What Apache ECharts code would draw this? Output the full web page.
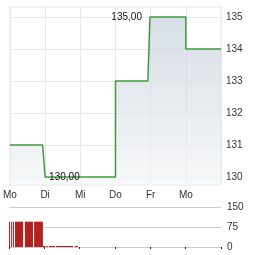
<!DOCTYPE html>
<html><head><meta charset="utf-8">
<script src="https://cdn.jsdelivr.net/npm/echarts@6/dist/echarts.min.js"></script>
<style>html,body{margin:0;padding:0;background:#fff}#c{width:264px;height:255px}</style>
</head><body><div id="c"></div>
<script>
// Price (step line), x in days since Monday
const dayLabels = ['Mo','Di','Mi','Do','Fr','Mo'];
const priceTimes = [0, 0.93, 1.0, 3.0, 3.0, 3.92, 3.98, 5.0, 5.0, 6.0];
const priceValues = [131, 131, 130, 130, 133, 133, 135, 135, 134, 134];
const priceTicks = [130, 131, 132, 133, 134, 135];
// Volume intervals
const volStart = [0.0, 0.06, 0.11, 0.17, 0.45, 0.71, 0.96, 1.04, 1.07, 1.13, 1.33, 1.86];
const volEnd   = [0.03, 0.085, 0.14, 0.40, 0.68, 0.96, 1.02, 1.06, 1.10, 1.30, 1.81, 1.95];
const volValues = [95, 95, 95, 95, 95, 95, 4, 4, 4, 4, 4, 4];
const volTicks = [0, 75, 150];

const FONT = 'Liberation Sans, Arial, sans-serif';
const priceData = priceTimes.map((t, i) => [t, priceValues[i]]);
const volData = volStart.map((s, i) => [s, volEnd[i], volValues[i]]);
const maxI = priceValues.indexOf(Math.max(...priceValues));
const minI = priceValues.indexOf(Math.min(...priceValues));
const fmt = v => v.toFixed(2).replace('.', ',');
const GRID = '#e8e8e8';

const chart = echarts.init(document.getElementById('c'), null, {renderer: 'canvas'});
chart.setOption({
  animation: false,
  grid: [
    {left: 9, right: 43, top: 7, height: 178, show: true, borderColor: GRID, borderWidth: 1, backgroundColor: 'transparent'},
    {left: 9, right: 43, top: 207, height: 40},
    {left: 9, right: 43, top: 17, height: 160}
  ],
  xAxis: [
    {type: 'value', gridIndex: 0, min: 0, max: 6, interval: 1,
     axisLine: {show: false}, axisTick: {show: false},
     axisLabel: {formatter: v => dayLabels[v] || '', color: '#333', fontSize: 10, fontFamily: FONT, margin: 5,
       showMaxLabel: false},
     splitLine: {show: true, lineStyle: {color: GRID, width: 1}}},
    {type: 'value', gridIndex: 1, min: 0, max: 6, interval: 1, position: 'top',
     axisLine: {show: true, lineStyle: {color: '#cccccc'}},
     axisTick: {show: true, inside: true, length: 2, lineStyle: {color: '#222'}},
     axisLabel: {show: false}, splitLine: {show: false}},
    {type: 'value', gridIndex: 2, min: 0, max: 6, show: false}
  ],
  yAxis: [
    {type: 'value', gridIndex: 0, position: 'right', min: 129.75, max: 135.3125, show: false},
    {type: 'value', gridIndex: 1, position: 'right', min: 0, max: 150, interval: 75,
     axisLine: {show: false},
     axisTick: {show: true, length: 5, lineStyle: {color: '#cccccc'}},
     axisLabel: {formatter: v => volTicks.includes(v) ? String(v) : '', color: '#333', fontSize: 10, fontFamily: FONT, margin: 6},
     splitLine: {show: true, lineStyle: {color: '#cccccc', width: 1}}},
    {type: 'value', gridIndex: 2, position: 'right', min: 130, max: 135, interval: 1,
     axisLine: {show: false}, axisTick: {show: false},
     axisLabel: {formatter: v => priceTicks.includes(v) ? String(v) : '', color: '#333', fontSize: 10, fontFamily: FONT, margin: 5},
     splitLine: {show: true, lineStyle: {color: GRID, width: 1}}}
  ],
  series: [
    {type: 'line', xAxisIndex: 0, yAxisIndex: 0, data: priceData, symbol: 'none', z: 3,
     lineStyle: {color: '#3f9a3f', width: 1.5},
     areaStyle: {origin: 'start', color: new echarts.graphic.LinearGradient(0, 0, 0, 1, [
       {offset: 0, color: '#c4cfd9'}, {offset: 1, color: '#f3f5f7'}])},
     markPoint: {symbol: 'circle', symbolSize: 0, silent: true,
       data: [
         {coord: priceData[maxI], value: priceValues[maxI],
          label: {show: true, position: 'left', distance: 8, formatter: p => fmt(p.value), color: '#111', fontSize: 10, fontFamily: FONT}},
         {coord: priceData[minI], value: priceValues[minI],
          label: {show: true, position: 'right', distance: 4, formatter: p => fmt(p.value), color: '#111', fontSize: 10, fontFamily: FONT}}
       ]}},
    {type: 'custom', xAxisIndex: 1, yAxisIndex: 1, data: volData,
     encode: {x: [0, 1], y: 2},
     renderItem: function (params, api) {
       const a = api.coord([api.value(0), api.value(2)]);
       const b = api.coord([api.value(1), 0]);
       return {type: 'rect', shape: {x: a[0], y: a[1], width: Math.max(1, b[0] - a[0]), height: b[1] - a[1]},
               style: {fill: '#b22222'}};
     }}
  ]
});
</script></body></html>
